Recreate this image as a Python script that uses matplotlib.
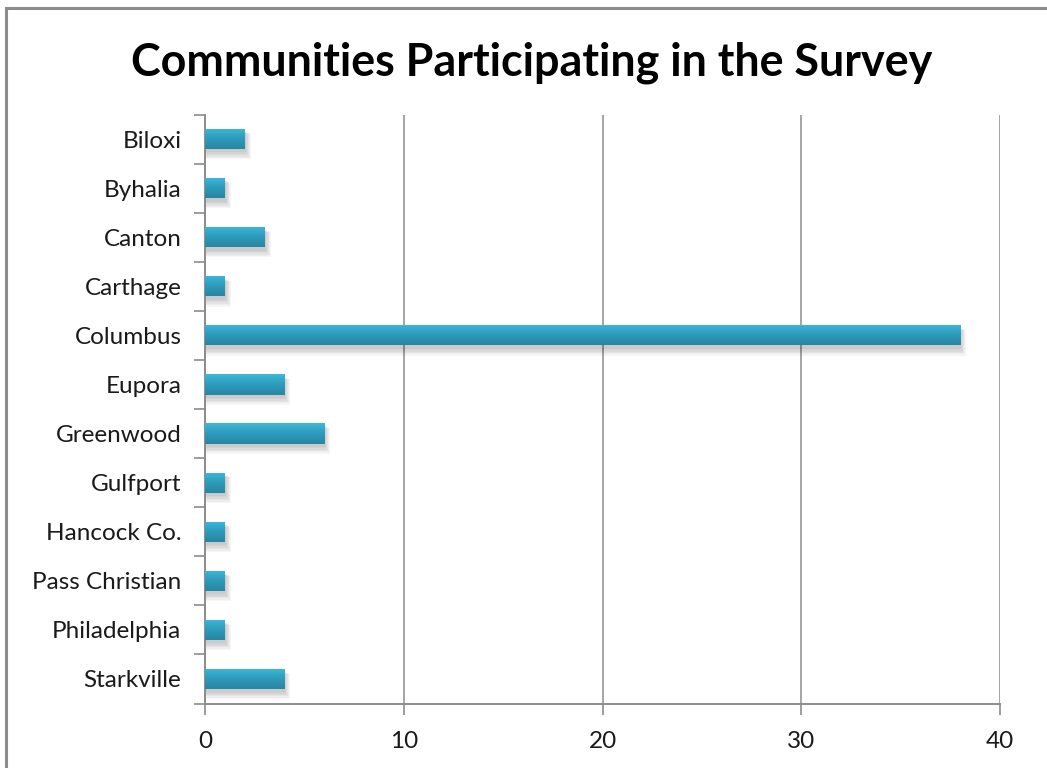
import matplotlib.pyplot as plt
import numpy as np
from matplotlib.patches import Rectangle
from matplotlib.colors import LinearSegmentedColormap

# Respuestas por comunidad
comunidades = ["Biloxi", "Byhalia", "Canton", "Carthage", "Columbus", "Eupora",
               "Greenwood", "Gulfport", "Hancock Co.", "Pass Christian",
               "Philadelphia", "Starkville"]
participantes = [2, 1, 3, 1, 38, 4, 6, 1, 1, 1, 1, 4]
marcas_x = [0, 10, 20, 30, 40]

plt.rcParams['font.family'] = ['Lato', 'DejaVu Sans']

fig = plt.figure(figsize=(10.47, 7.68), dpi=100)
W, H = 1047, 768

# marco gris del área del gráfico (se sale por la derecha y por abajo)
fig.patches.append(Rectangle((6 / W, -0.1), 1.2, 1 - 8 / H + 0.1,
                             transform=fig.transFigure, fill=False,
                             edgecolor='#8c8c8c', linewidth=2.2, zorder=0))

ax = fig.add_axes([205 / W, 1 - 703.5 / H, 795 / W, 589 / H])

y = np.arange(len(comunidades))
barras = ax.barh(y, participantes, height=0.41, facecolor='none',
                 edgecolor='none', zorder=3)

# degradado vertical y sombra difusa de cada barra
cmap = LinearSegmentedColormap.from_list('azul', ['#3cb9dc', '#2e9aba', '#2886a3'])
grad = np.linspace(0, 1, 64).reshape(-1, 1)
for b in barras:
    x0, y0 = b.get_x(), b.get_y()
    w, h = b.get_width(), b.get_height()
    for k in range(6):
        d = 0.02 * (k + 1)
        ax.add_patch(Rectangle((x0, y0 + 0.04 + d * 0.5), w + d * 2.5, h + d * 0.9,
                               facecolor='#000000', alpha=0.035, edgecolor='none',
                               zorder=2))
    im = ax.imshow(grad, cmap=cmap, aspect='auto', extent=(x0, x0 + w, y0 + h, y0),
                   zorder=4, interpolation='bilinear')
    im.set_clip_path(b)

ax.set_xlim(0, 40)
ax.set_ylim(len(comunidades) - 0.5, -0.5)

ax.set_xticks(marcas_x)
ax.set_yticks(y)
ax.set_yticklabels(comunidades)
ax.set_yticks(np.arange(-0.5, len(comunidades)), minor=True)
ax.tick_params(axis='y', which='major', length=0, pad=17, labelsize=17.5, colors='#1a1a1a')
ax.tick_params(axis='y', which='minor', length=8, width=1.2, color='#8c8c8c', direction='out')
ax.tick_params(axis='x', which='major', length=8, width=1.2, color='#8c8c8c',
               direction='out', pad=12, labelsize=17.5, labelcolor='#1a1a1a')

ax.grid(axis='x', color='#8c8c8c', linewidth=1.1, zorder=1)
ax.set_axisbelow(True)
for lado in ['top', 'right']:
    ax.spines[lado].set_visible(False)
for lado in ['left', 'bottom']:
    ax.spines[lado].set_color('#8c8c8c')
    ax.spines[lado].set_linewidth(1.4)

fig.text(532 / W, 1 - 63 / H, 'Communities Participating in the Survey',
         ha='center', va='center', fontsize=32.3, fontweight='bold', color='#000000')

fig.savefig('out.png', dpi=100)
